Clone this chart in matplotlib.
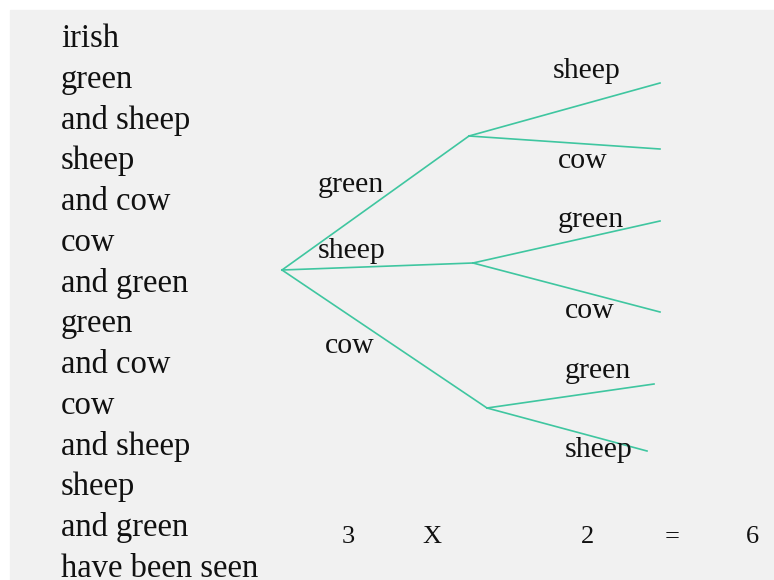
import matplotlib.pyplot as plt
from matplotlib.patches import Rectangle

plt.rcParams["font.family"] = ["Liberation Serif", "DejaVu Serif"]

# rhyme lines on the left
rhyme = ["irish", "green", "and sheep", "sheep", "and cow", "cow", "and green",
         "green", "and cow", "cow", "and sheep", "sheep", "and green", "have been seen"]

# tree nodes (image pixel coords)
root = (282, 270)
mid_nodes = [(469, 136), (473, 263), (487, 408)]
first_labels = ["green", "sheep", "cow"]
first_label_pos = [(318, 192), (318, 258), (325, 353)]

leaves = [[(660, 83), (660, 149)],
          [(660, 221), (660, 312)],
          [(654, 384), (647, 451)]]
second_labels = [["sheep", "cow"], ["green", "cow"], ["green", "sheep"]]
second_label_pos = [[(553, 78), (558, 168)],
                    [(558, 227), (565, 318)],
                    [(565, 378), (565, 457)]]

# bottom equation
eq_text = ["3", "X", "2", "=", "6"]
eq_x = [348, 432, 588, 672, 752]
eq_y = 543

line_color = "#3fc6a0"

fig = plt.figure(figsize=(7.74, 5.80), dpi=100)
ax = fig.add_axes([0, 0, 1, 1])
ax.set_xlim(0, 774)
ax.set_ylim(580, 0)
ax.axis("off")
ax.add_patch(Rectangle((10, 10), 764, 570, color="#f1f1f1", zorder=0))

for i, line in enumerate(rhyme):
    ax.text(61, 47 + i * 40.77, line, fontsize=23.5, color="#111111",
            ha="left", va="baseline")

for node, lab, lpos, kids, klabs, kpos in zip(mid_nodes, first_labels, first_label_pos,
                                             leaves, second_labels, second_label_pos):
    ax.plot([root[0], node[0]], [root[1], node[1]], color=line_color, lw=1.2, zorder=2)
    ax.text(lpos[0], lpos[1], lab, fontsize=21.5, color="#111111", ha="left", va="baseline")
    for leaf, kl, kp in zip(kids, klabs, kpos):
        ax.plot([node[0], leaf[0]], [node[1], leaf[1]], color=line_color, lw=1.2, zorder=2)
        ax.text(kp[0], kp[1], kl, fontsize=21.5, color="#111111", ha="left", va="baseline")

for t, x in zip(eq_text, eq_x):
    ax.text(x, eq_y, t, fontsize=19, color="#111111", ha="center", va="baseline")

fig.savefig("out.png", dpi=100)
